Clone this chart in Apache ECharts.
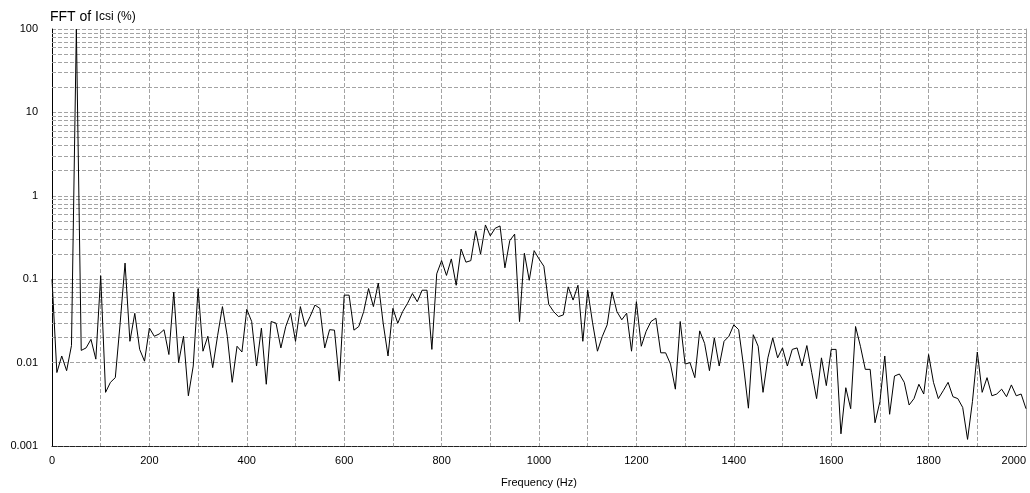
<!DOCTYPE html>
<html>
<head>
<meta charset="utf-8">
<script src="https://cdn.jsdelivr.net/npm/echarts@6/dist/echarts.min.js"></script>
<style>
html,body{margin:0;padding:0;background:#fff;}
#chart{width:1030px;height:493px;}
</style>
</head>
<body>
<div id="chart"></div>
<script>
// Frequency resolution of the spectrum (Hz) and its span
const FREQ_STEP = 10;
const FREQ_MAX = 2000;

// FFT magnitude of Icsi in % of fundamental, one value per 10 Hz bin
const band0to490 = [
  0.1, 0.0076, 0.012, 0.008, 0.016, 100, 0.014, 0.015, 0.019, 0.011,
  0.11, 0.0044, 0.0058, 0.0066, 0.03, 0.156, 0.018, 0.039, 0.0144, 0.0104,
  0.026, 0.0207, 0.022, 0.0248, 0.0125, 0.07, 0.01, 0.0207, 0.004, 0.0091,
  0.077, 0.0137, 0.0207, 0.0087, 0.021, 0.0469, 0.0206, 0.0058, 0.0157, 0.0134,
  0.0436, 0.0311, 0.0091, 0.0259, 0.0055, 0.0311, 0.0297, 0.015, 0.0271, 0.0391
];
const band500to990 = [
  0.018, 0.0469, 0.0271, 0.0357, 0.049, 0.0447, 0.015, 0.0248, 0.0245, 0.006,
  0.0644, 0.0644, 0.0245, 0.0271, 0.0409, 0.0772, 0.0469, 0.09, 0.0297, 0.012,
  0.0447, 0.0297, 0.0409, 0.0513, 0.0674, 0.0537, 0.0738, 0.0738, 0.0144, 0.116,
  0.167, 0.111, 0.175, 0.0846, 0.23, 0.16, 0.167, 0.38, 0.2, 0.447,
  0.331, 0.408, 0.435, 0.137, 0.29, 0.347, 0.031, 0.205, 0.097, 0.22
];
const band1000to1490 = [
  0.175, 0.143, 0.05, 0.0409, 0.0356, 0.0373, 0.0809, 0.0562, 0.0846, 0.018,
  0.0738, 0.03, 0.0137, 0.0206, 0.0284, 0.0705, 0.0409, 0.0326, 0.0391, 0.0137,
  0.0537, 0.0157, 0.0237, 0.0311, 0.0341, 0.0131, 0.0131, 0.0096, 0.0048, 0.0311,
  0.0096, 0.01, 0.0066, 0.024, 0.017, 0.008, 0.0197, 0.0091, 0.018, 0.0207,
  0.0284, 0.0248, 0.0091, 0.00284, 0.0216, 0.0157, 0.0044, 0.0114, 0.0197, 0.0114
];
const band1500to2000 = [
  0.015, 0.0091, 0.0144, 0.015, 0.0091, 0.016, 0.0076, 0.0037, 0.0114, 0.0053,
  0.0144, 0.0144, 0.0014, 0.005, 0.0028, 0.0271, 0.0157, 0.0083, 0.0083, 0.0019,
  0.0034, 0.012, 0.0024, 0.0069, 0.0073, 0.0058, 0.0031, 0.0037, 0.0055, 0.0042,
  0.0125, 0.0058, 0.0037, 0.0046, 0.0058, 0.0039, 0.0037, 0.0029, 0.0012, 0.0034,
  0.0134, 0.0044, 0.0066, 0.004, 0.0042, 0.0048, 0.0039, 0.0054, 0.004, 0.0042,
  0.0028
];

// Axis ranges and tick labels
const Y_MIN = 0.001, Y_MAX = 100;
const yTickLabels = ['0.001', '0.01', '0.1', '1', '10', '100'];
const xLabelStep = 200;
const xGridStep = 100;
const minorMultipliers = [2, 3, 4, 5, 6, 7, 8, 9];
const decades = [0.001, 0.01, 0.1, 1, 10];

const amps = band0to490.concat(band500to990, band1000to1490, band1500to2000);
const seriesData = amps.map((v, i) => [i * FREQ_STEP, v]);

const minorLines = [];
decades.forEach(d => minorMultipliers.forEach(m => minorLines.push({ yAxis: +(d * m).toPrecision(3) })));

const gridColor = '#a3a3a3';
const dash = [4, 2];
const font = 'Liberation Sans, Arial, sans-serif';

const chart = echarts.init(document.getElementById('chart'), null, { renderer: 'canvas' });
chart.setOption({
  animation: false,
  backgroundColor: '#ffffff',
  title: {
    text: '{a|FFT of I}{b|csi (%)}',
    left: 45,
    top: 5,
    textStyle: {
      fontFamily: font,
      fontWeight: 'normal',
      rich: {
        a: { fontSize: 14, color: '#000', fontFamily: font, fontWeight: 'normal' },
        b: { fontSize: 12, color: '#000', fontFamily: font, fontWeight: 'normal' }
      }
    }
  },
  grid: { left: 52, right: 4, top: 29, bottom: 42, containLabel: false },
  xAxis: {
    type: 'value',
    min: 0,
    max: FREQ_MAX,
    interval: xGridStep,
    name: 'Frequency (Hz)',
    nameLocation: 'middle',
    nameGap: 31,
    nameTextStyle: { fontFamily: font, fontSize: 11, color: '#000' },
    axisLine: { show: true, onZero: false, lineStyle: { color: '#222', width: 1, type: [5, 1] } },
    axisTick: { show: false },
    axisLabel: {
      margin: 9,
      fontFamily: font,
      fontSize: 11,
      color: '#000',
      alignMaxLabel: 'right',
      formatter: v => (v % xLabelStep === 0 ? String(v) : '')
    },
    splitLine: { show: true, lineStyle: { color: gridColor, type: dash, width: 1 } }
  },
  yAxis: [{
    type: 'log',
    logBase: 10,
    min: Y_MIN,
    max: Y_MAX,
    axisLine: { show: true, onZero: false, lineStyle: { color: '#000', width: 1 } },
    axisTick: { show: false },
    axisLabel: {
      margin: 14,
      fontFamily: font,
      fontSize: 11,
      color: '#000',
      formatter: (v) => {
        const idx = Math.round(Math.log10(v / Y_MIN));
        return yTickLabels[idx] !== undefined ? yTickLabels[idx] : '';
      }
    },
    splitLine: { show: true, lineStyle: { color: gridColor, type: dash, width: 1 } }
  }, {
    type: 'log',
    logBase: 10,
    min: Y_MIN,
    max: Y_MAX,
    position: 'right',
    axisLine: { show: true, onZero: false, lineStyle: { color: '#a0a0a0', width: 1 } },
    axisTick: { show: false },
    axisLabel: { show: false },
    splitLine: { show: false }
  }],
  series: [{
    type: 'line',
    yAxisIndex: 0,
    data: seriesData,
    showSymbol: false,
    symbol: 'none',
    z: 3,
    lineStyle: { color: '#000', width: 1 },
    markLine: {
      silent: true,
      z: 1,
      symbol: ['none', 'none'],
      label: { show: false },
      lineStyle: { color: gridColor, type: dash, width: 1 },
      emphasis: { disabled: true },
      data: minorLines
    }
  }]
});
</script>
</body>
</html>
